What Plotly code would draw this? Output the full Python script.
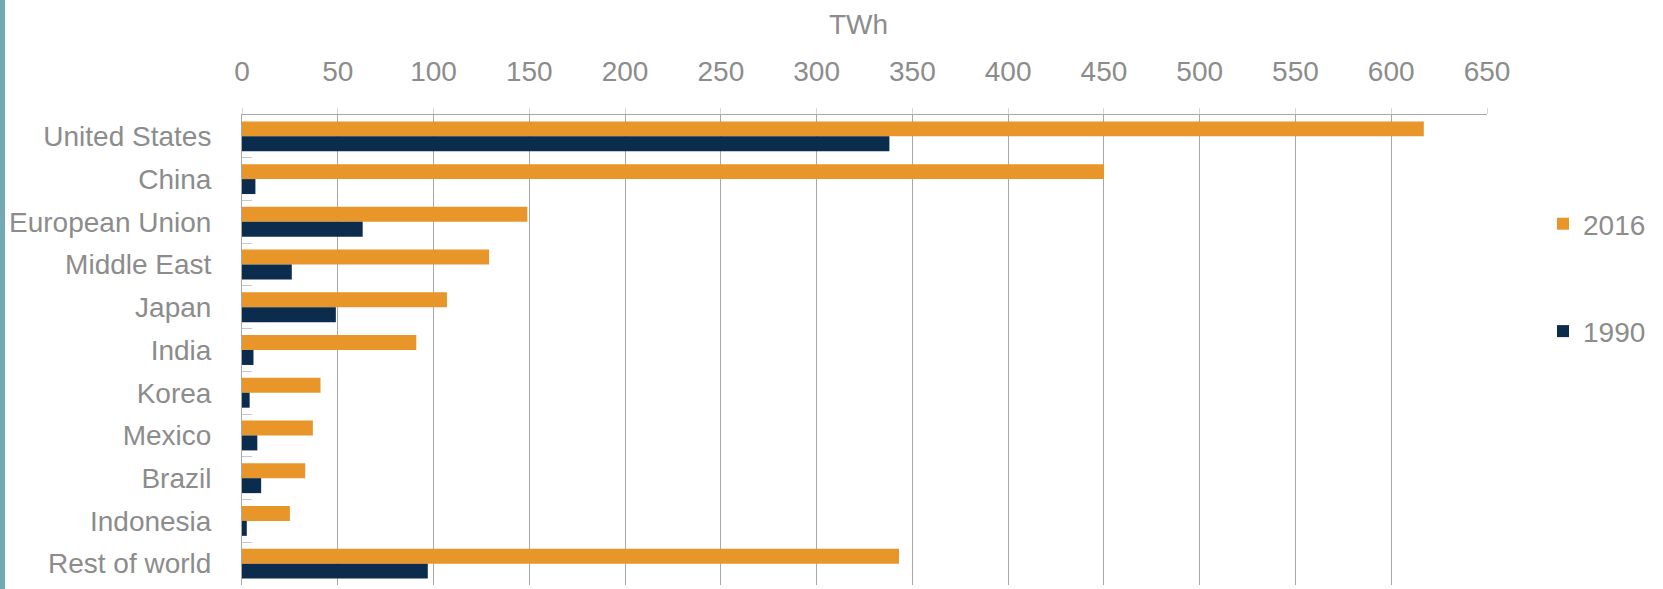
import plotly.graph_objects as go

categories = ["United States", "China", "European Union", "Middle East", "Japan", "India",
              "Korea", "Mexico", "Brazil", "Indonesia", "Rest of world"]
values_2016 = [617, 450, 149, 129, 107, 91, 41, 37, 33, 25, 343]
values_1990 = [338, 7, 63, 26, 49, 6, 4, 8, 10, 2.5, 97]
x_ticks = list(range(0, 651, 50))

ORANGE = "#E8952A"
NAVY = "#0C2C4E"
TEXT = "#8C8C8C"
GRID = "#A8A8A8"
FONT = "Liberation Sans, Arial, sans-serif"

W, H = 1663, 589
L, R, T, B = 242, 176, 115, 4
pw, ph = W - L - R, H - T - B

fig = go.Figure()
fig.add_trace(go.Bar(name="2016", y=categories, x=values_2016, orientation="h",
                     marker=dict(color=ORANGE, line=dict(width=0)), legendgroup="a"))
fig.add_trace(go.Bar(name="1990", y=categories, x=values_1990, orientation="h",
                     marker=dict(color=NAVY, line=dict(width=0)), legendgroup="b"))

fig.update_layout(
    width=W, height=H,
    margin=dict(l=L, r=R, t=T, b=B, pad=0, autoexpand=False),
    paper_bgcolor="white", plot_bgcolor="white",
    barmode="group", bargap=0.3, bargroupgap=0,
    font=dict(family=FONT, size=28, color=TEXT),
    showlegend=True,
    legend=dict(x=(1543 - L) / pw, xanchor="left", y=(H - B - 199) / ph, yanchor="top",
                font=dict(size=28, color=TEXT), tracegroupgap=68,
                bgcolor="rgba(0,0,0,0)"),
    xaxis=dict(side="top", range=[0, 650], tickvals=x_ticks, showgrid=True, automargin=False,
               gridcolor=GRID, gridwidth=1, showline=True, linecolor=GRID, linewidth=1,
               ticks="outside", ticklen=6, tickcolor="#D8D8D8", ticklabelstandoff=16,
               tickfont=dict(size=28, color=TEXT), zeroline=False),
    yaxis=dict(range=[len(categories) - 0.5, -0.5], showline=True, linecolor=GRID, linewidth=1,
               automargin=False,
               ticks="inside", tickson="boundaries", ticklen=10, tickcolor="#C8C8C8",
               ticklabelstandoff=24, tickfont=dict(size=28, color=TEXT), showgrid=False),
    annotations=[dict(text="TWh", xref="paper", yref="paper",
                      x=(858 - L) / pw, y=1 + (T - 24) / ph, xanchor="center", yanchor="middle",
                      showarrow=False, font=dict(size=28, color=TEXT, family=FONT))],
    shapes=[dict(type="rect", xref="paper", yref="paper",
                 x0=-L / pw, x1=(-L + 5) / pw, y0=-B / ph, y1=1 + T / ph,
                 fillcolor="#72A9B4", line=dict(width=0), layer="above")],
)

fig.write_html("out.html")
